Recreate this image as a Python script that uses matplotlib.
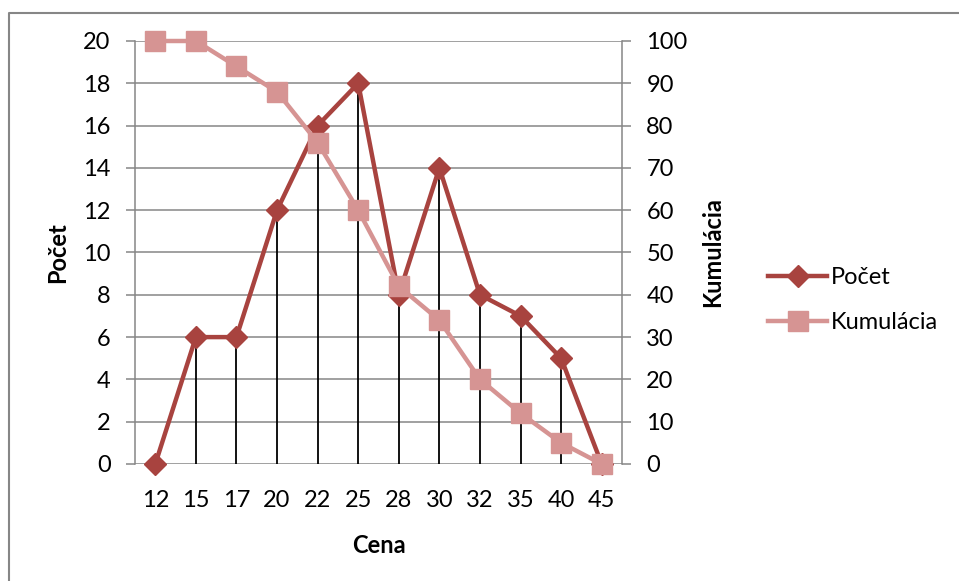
import matplotlib
matplotlib.use("Agg")
import matplotlib.pyplot as plt
from matplotlib.lines import Line2D

categories = ["12", "15", "17", "20", "22", "25", "28", "30", "32", "35", "40", "45"]
pocet = [0, 6, 6, 12, 16, 18, 8, 14, 8, 7, 5, 0]
kumulacia = [100, 100, 94, 88, 76, 60, 42, 34, 20, 12, 5, 0]
left_ticks = list(range(0, 21, 2))
right_ticks = list(range(0, 101, 10))

plt.rcParams['font.family'] = ['Lato', 'DejaVu Sans']

W, H = 959, 581
fig = plt.figure(figsize=(W / 100, H / 100), dpi=100)
ax = fig.add_axes([135 / W, 1 - 464 / H, (622 - 135) / W, (464 - 41) / H])
ax2 = ax.twinx()

grid_c = '#868686'
red = '#A8433F'
pink = '#D69493'
fs = 17

x = list(range(len(categories)))

# gridlines
for t in left_ticks:
    ax.axhline(t, color=grid_c, lw=1.1, zorder=0)

# drop lines
ax.vlines(x, 0, pocet, color='black', lw=1.3, zorder=1)

ax.plot(x, pocet, color=red, lw=3.2, marker='D', markersize=11.5,
        markerfacecolor=red, markeredgecolor=red, zorder=3, label='Počet',
        clip_on=False)
ax2.plot(x, kumulacia, color=pink, lw=3.2, marker='s', markersize=14,
         markerfacecolor=pink, markeredgecolor=pink, zorder=3, label='Kumulácia',
         clip_on=False)

ax.set_xlim(-0.5, len(categories) - 0.5)
ax.set_ylim(0, 20)
ax2.set_ylim(0, 100)
ax.set_yticks(left_ticks)
ax2.set_yticks(right_ticks)
ax.set_xticks(x)
ax.set_xticklabels(categories)

for a in (ax, ax2):
    for s in a.spines.values():
        s.set_visible(False)
ax.spines['left'].set_visible(True)
ax.spines['left'].set_color(grid_c)
ax.spines['left'].set_linewidth(1.1)
ax2.spines['right'].set_visible(True)
ax2.spines['right'].set_color(grid_c)
ax2.spines['right'].set_linewidth(1.1)

ax.tick_params(axis='y', direction='out', length=6.5, width=1.1, color=grid_c,
               labelsize=fs, pad=11)
ax2.tick_params(axis='y', direction='out', length=6.5, width=1.1, color=grid_c,
                labelsize=fs, pad=11)
ax.tick_params(axis='x', length=0, labelsize=fs, pad=19)

ax.set_ylabel('Počet', fontsize=fs, fontweight='bold', labelpad=10)
ax2.set_ylabel('Kumulácia', fontsize=fs, fontweight='bold', labelpad=10)
ax.set_xlabel('Cena', fontsize=fs, fontweight='bold', labelpad=16)

handles = [ax.get_lines()[-1], ax2.get_lines()[-1]]
fig.legend(handles, ['Počet', 'Kumulácia'], loc='center left',
           bbox_to_anchor=(768 / W, 1 - 300 / H), frameon=False, fontsize=fs,
           handlelength=2.5, labelspacing=1.0, handletextpad=0.15,
           borderaxespad=0, borderpad=0)

# chart border
fig.add_artist(Line2D([8.5 / W, 8.5 / W, 1.0], [0.0, 1 - 12.5 / H, 1 - 12.5 / H],
                      transform=fig.transFigure, color='#868686', lw=1.5))

fig.savefig('out.png', dpi=100)
